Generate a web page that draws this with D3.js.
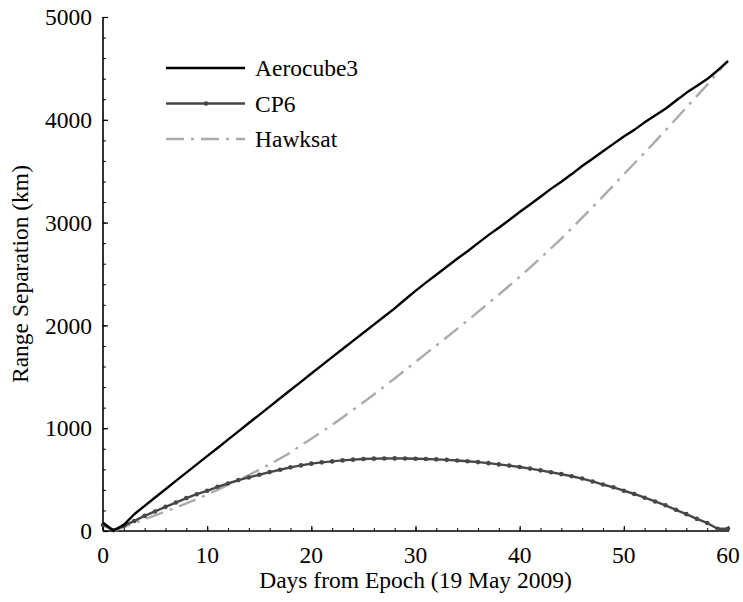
<!DOCTYPE html>
<html>
<head>
<meta charset="utf-8">
<script src="https://cdn.jsdelivr.net/npm/d3@7"></script>
<style>
  html, body { margin: 0; padding: 0; background: #fff; }
  svg { display: block; }
  .lbl { font-family: "Liberation Serif", "Times New Roman", serif; font-size: 23.5px; fill: #000; }
</style>
</head>
<body>
<svg id="chart" width="743" height="602"></svg>
<script>
// Range separation of three CubeSats from Epoch, one value per day
const days = d3.range(0, 61);

const aerocube3 = [80, 5, 60, 163, 245, 326, 406, 488, 568, 648,
  728, 808, 889, 969, 1050, 1130, 1210, 1291, 1371, 1451,
  1532, 1611, 1691, 1770, 1850, 1929, 2008, 2087, 2166, 2252,
  2336, 2416, 2492, 2570, 2648, 2722, 2800, 2878, 2950, 3026,
  3103, 3176, 3252, 3328, 3398, 3472, 3550, 3622, 3694, 3766,
  3838, 3902, 3975, 4042, 4108, 4185, 4262, 4328, 4396, 4480,
  4570];

const cp6 = [59, 7, 50, 98, 147, 190, 235, 277, 320, 358,
  391, 430, 462, 495, 521, 547, 573, 596, 619, 638,
  655, 668, 677, 687, 694, 700, 704, 705, 706, 705,
  703, 700, 697, 692, 686, 678, 670, 660, 648, 636,
  622, 607, 590, 572, 553, 533, 510, 482, 452, 425,
  392, 360, 324, 287, 250, 206, 164, 118, 78, 22,
  22];

const hawksat = [null, 0, 38, 76, 114, 152, 190, 228, 268, 310,
  355, 400, 447, 495, 545, 596, 650, 705, 762, 835,
  898, 965, 1034, 1105, 1178, 1252, 1328, 1405, 1484, 1564,
  1645, 1725, 1805, 1885, 1966, 2048, 2131, 2215, 2300, 2386,
  2473, 2563, 2656, 2750, 2845, 2945, 3048, 3150, 3255, 3362,
  3470, 3575, 3680, 3788, 3897, 4008, 4120, 4230, 4340, 4460,
  4580];

const xTicks = [0, 10, 20, 30, 40, 50, 60];
const yTicks = [0, 1000, 2000, 3000, 4000, 5000];
const xMinor = d3.range(0, 61, 2);
const yMinor = d3.range(0, 5001, 200);

const seriesNames = ["Aerocube3", "CP6", "Hawksat"];

const svg = d3.select("#chart");

const x = d3.scaleLinear().domain([0, 60]).range([103, 728]);
const y = d3.scaleLinear().domain([0, 5000]).range([531, 17]);

// ---- tick marks (axis generators, labels drawn separately) ----
function ticks(axis, transform, width) {
  const g = svg.append("g").attr("transform", transform).call(axis);
  g.select(".domain").remove();
  g.selectAll(".tick text").remove();
  g.selectAll(".tick line").attr("stroke", "#000").attr("stroke-width", width);
  return g;
}
ticks(d3.axisBottom(x).tickValues(xMinor).tickSize(-3), `translate(0,${y(0)})`, 1);
ticks(d3.axisBottom(x).tickValues(xTicks).tickSize(-5), `translate(0,${y(0)})`, 1.2);
ticks(d3.axisLeft(y).tickValues(yMinor).tickSize(-3), `translate(${x(0)},0)`, 1);
ticks(d3.axisLeft(y).tickValues(yTicks).tickSize(-5), `translate(${x(0)},0)`, 1.2);

// tick labels
svg.append("g").selectAll("text").data(xTicks).join("text")
  .attr("class", "lbl")
  .attr("x", d => x(d)).attr("y", y(0) + 32)
  .attr("text-anchor", "middle")
  .text(d => d);
svg.append("g").selectAll("text").data(yTicks).join("text")
  .attr("class", "lbl")
  .attr("x", x(0) - 11).attr("y", d => y(d)).attr("dy", "0.35em")
  .attr("text-anchor", "end")
  .text(d => d);

// axis lines
svg.append("line").attr("x1", x(0)).attr("x2", x(60) + 1).attr("y1", y(0)).attr("y2", y(0))
  .attr("stroke", "#000").attr("stroke-width", 1.6);
svg.append("line").attr("x1", x(0)).attr("x2", x(0)).attr("y1", y(0)).attr("y2", y(5000))
  .attr("stroke", "#000").attr("stroke-width", 1.6);

// axis titles
svg.append("text").attr("class", "lbl")
  .attr("x", (x(0) + x(60)) / 2).attr("y", 588)
  .attr("text-anchor", "middle")
  .text("Days from Epoch (19 May 2009)");
svg.append("text").attr("class", "lbl")
  .attr("transform", `translate(28,${(y(0) + y(5000)) / 2}) rotate(-90)`)
  .attr("text-anchor", "middle")
  .text("Range Separation (km)");

// ---- series ----
const line = vals => d3.line()
  .defined((d, i) => vals[i] != null)
  .x((d, i) => x(days[i]))
  .y((d, i) => y(vals[i]))(vals);

const styles = {
  Aerocube3: { stroke: "#000", width: 2.4, dash: null },
  CP6: { stroke: "#474747", width: 2.4, dash: null },
  Hawksat: { stroke: "#ababab", width: 2.4, dash: "18,7,3,7" }
};

svg.append("path").attr("d", line(hawksat))
  .attr("fill", "none").attr("stroke", styles.Hawksat.stroke)
  .attr("stroke-width", styles.Hawksat.width).attr("stroke-dasharray", styles.Hawksat.dash);
svg.append("path").attr("d", line(cp6))
  .attr("fill", "none").attr("stroke", styles.CP6.stroke)
  .attr("stroke-width", styles.CP6.width).attr("stroke-linejoin", "round");
svg.append("g").selectAll("circle").data(cp6).join("circle")
  .attr("cx", (d, i) => x(days[i])).attr("cy", d => y(d))
  .attr("r", 2.3).attr("fill", styles.CP6.stroke);
svg.append("path").attr("d", line(aerocube3))
  .attr("fill", "none").attr("stroke", styles.Aerocube3.stroke)
  .attr("stroke-width", styles.Aerocube3.width).attr("stroke-linejoin", "round");

// ---- legend ----
const legend = svg.append("g");
seriesNames.forEach((name, i) => {
  const ly = 68 + i * 35.5;
  const s = styles[name];
  legend.append("line")
    .attr("x1", 166).attr("x2", 245).attr("y1", ly).attr("y2", ly)
    .attr("stroke", s.stroke).attr("stroke-width", s.width)
    .attr("stroke-dasharray", s.dash);
  if (name === "CP6") {
    legend.append("circle").attr("cx", 206).attr("cy", ly).attr("r", 2.3).attr("fill", s.stroke);
  }
  legend.append("text").attr("class", "lbl")
    .attr("x", 255).attr("y", ly).attr("dy", "0.35em")
    .text(name);
});
</script>
</body>
</html>
